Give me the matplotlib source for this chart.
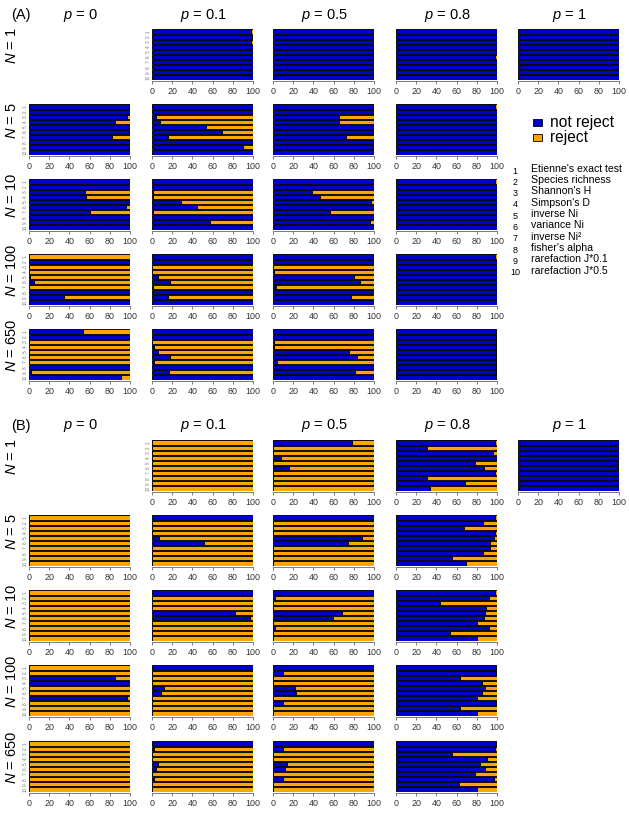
import matplotlib
matplotlib.use("Agg")
import matplotlib.pyplot as plt
from matplotlib.patches import Rectangle

plt.rcParams['font.family'] = ['Liberation Sans', 'DejaVu Sans']
plt.rcParams['mathtext.fontset'] = 'custom'
plt.rcParams['mathtext.rm'] = 'Liberation Sans'
plt.rcParams['mathtext.it'] = 'Liberation Sans:italic'

# ---------------- data: % "not reject" for tests 1..10 ----------------
p_values = ['0', '0.1', '0.5', '0.8', '1']
N_values = ['1', '5', '10', '100', '650']
methods = ["Etienne's exact test", "Species richness", "Shannon's H", "Simpson's D",
           "inverse Ni", "variance Ni", "inverse Ni\u00b2", "fisher's alpha",
           "rarefaction J*0.1", "rarefaction J*0.5"]
x_ticks = [0, 20, 40, 60, 80, 100]

# Panel A
A_N1_p01 = [98, 99, 98, 100, 100, 100, 100, 100, 100, 100]
A_N1_p05 = [100, 100, 100, 100, 99, 99, 100, 100, 100, 100]
A_N1_p08 = [100, 100, 100, 100, 100, 98, 100, 100, 100, 100]
A_N1_p1 = [100, 100, 100, 100, 100, 100, 100, 100, 100, 100]
A_N5_p0 = [100, 100, 97, 85, 100, 100, 82, 100, 100, 100]
A_N5_p01 = [100, 100, 4, 8, 53, 69, 16, 100, 90, 100]
A_N5_p05 = [100, 100, 65, 65, 100, 100, 72, 100, 100, 100]
A_N5_p08 = [98, 100, 100, 100, 100, 100, 100, 100, 100, 100]
A_N10_p0 = [99, 100, 55, 56, 100, 96, 60, 100, 100, 100]
A_N10_p01 = [100, 100, 1, 1, 29, 45, 1, 100, 57, 100]
A_N10_p05 = [100, 100, 39, 47, 97, 100, 56, 100, 96, 100]
A_N10_p08 = [98, 100, 100, 100, 100, 100, 100, 100, 100, 100]
A_N100_p0 = [0, 100, 0, 0, 1, 5, 0, 100, 35, 100]
A_N100_p01 = [100, 100, 0, 0, 6, 18, 1, 100, 16, 100]
A_N100_p05 = [100, 100, 0, 1, 80, 86, 3, 100, 77, 100]
A_N100_p08 = [98, 100, 100, 100, 100, 100, 100, 100, 100, 100]
A_N650_p0 = [53, 100, 0, 0, 0, 0, 0, 100, 2, 91]
A_N650_p01 = [100, 100, 0, 2, 6, 18, 2, 100, 17, 100]
A_N650_p05 = [100, 100, 1, 1, 75, 83, 4, 100, 81, 100]
A_N650_p08 = [99, 99, 99, 99, 99, 99, 99, 99, 99, 99]

# Panel B
B_N1_p01 = [0, 0, 0, 0, 0, 0, 0, 0, 0, 0]
B_N1_p05 = [78, 0, 0, 8, 0, 16, 0, 0, 0, 0]
B_N1_p08 = [98, 31, 96, 100, 78, 87, 98, 31, 68, 34]
B_N1_p1 = [100, 100, 100, 100, 99, 99, 100, 100, 100, 100]
B_N5_p0 = [0, 0, 0, 0, 0, 0, 0, 0, 0, 0]
B_N5_p01 = [100, 0, 0, 0, 7, 51, 0, 0, 0, 0]
B_N5_p05 = [100, 0, 0, 0, 88, 74, 0, 0, 0, 0]
B_N5_p08 = [98, 86, 67, 98, 97, 93, 93, 86, 55, 69]
B_N10_p0 = [0, 0, 0, 0, 0, 0, 0, 0, 0, 0]
B_N10_p01 = [100, 0, 0, 0, 82, 97, 0, 0, 0, 0]
B_N10_p05 = [100, 2, 0, 0, 68, 59, 0, 2, 0, 0]
B_N10_p08 = [98, 92, 44, 89, 88, 87, 80, 92, 53, 80]
B_N100_p0 = [0, 0, 85, 100, 0, 0, 97, 0, 0, 0]
B_N100_p01 = [100, 0, 0, 0, 12, 9, 0, 0, 0, 0]
B_N100_p05 = [100, 10, 0, 0, 22, 23, 0, 10, 0, 0]
B_N100_p08 = [99, 99, 63, 85, 88, 85, 80, 99, 63, 80]
B_N650_p0 = [0, 0, 0, 0, 0, 0, 0, 0, 0, 0]
B_N650_p01 = [100, 2, 0, 0, 6, 4, 0, 2, 0, 0]
B_N650_p05 = [100, 10, 0, 0, 14, 12, 0, 10, 0, 0]
B_N650_p08 = [99, 98, 55, 90, 83, 88, 78, 97, 62, 80]

panelA = [[None, A_N1_p01, A_N1_p05, A_N1_p08, A_N1_p1],
          [A_N5_p0, A_N5_p01, A_N5_p05, A_N5_p08, None],
          [A_N10_p0, A_N10_p01, A_N10_p05, A_N10_p08, None],
          [A_N100_p0, A_N100_p01, A_N100_p05, A_N100_p08, None],
          [A_N650_p0, A_N650_p01, A_N650_p05, A_N650_p08, None]]
panelB = [[None, B_N1_p01, B_N1_p05, B_N1_p08, B_N1_p1],
          [B_N5_p0, B_N5_p01, B_N5_p05, B_N5_p08, None],
          [B_N10_p0, B_N10_p01, B_N10_p05, B_N10_p08, None],
          [B_N100_p0, B_N100_p01, B_N100_p05, B_N100_p08, None],
          [B_N650_p0, B_N650_p01, B_N650_p05, B_N650_p08, None]]

BLUE = '#0000CD'
ORANGE = '#FFA500'

W, H = 629, 827
fig = plt.figure(figsize=(W / 100, H / 100), dpi=100)

# overlay axes in pixel coordinates for free text
ov = fig.add_axes([0, 0, 1, 1])
ov.set_xlim(0, W)
ov.set_ylim(H, 0)
ov.axis('off')
ov.patch.set_alpha(0)

col_x = [29, 152, 273, 396, 518]
cw, ch = 101, 51
row_tops = {'A': [29, 104, 179, 254, 329], 'B': [440, 515, 590, 665, 741]}


def draw_cell(x0, ytop, vals, show_names):
    ax = fig.add_axes([x0 / W, 1 - (ytop + ch) / H, cw / W, ch / H])
    pos = list(range(len(vals)))
    rej = [100 - v for v in vals]
    ax.barh(pos, vals, height=0.83, color=BLUE, edgecolor='black', linewidth=0.65)
    ax.barh(pos, rej, left=vals, height=0.83, color=ORANGE, edgecolor='black', linewidth=0.65)
    ax.set_xlim(0, 100)
    ax.set_ylim(len(vals) - 0.5, -0.5)
    for s in ['top', 'right', 'left']:
        ax.spines[s].set_visible(False)
    ax.spines['bottom'].set_bounds(0, 100)
    ax.spines['bottom'].set_position(('outward', 1.0))
    ax.spines['bottom'].set_color('#666666')
    ax.spines['bottom'].set_linewidth(0.6)
    ax.set_xticks(x_ticks)
    ax.tick_params(axis='x', length=2.2, width=0.6, colors='#666666', labelsize=6.4,
                   labelcolor='#333333', pad=2.0)
    if show_names:
        ax.set_yticks(pos)
        ax.set_yticklabels([str(i + 1) for i in pos], rotation=90, fontsize=3.3,
                           color='#777777', va='center')
        ax.tick_params(axis='y', length=0, pad=1)
    else:
        ax.set_yticks([])
    ax.patch.set_alpha(0)
    return ax


for pname, grid in [('A', panelA), ('B', panelB)]:
    tops = row_tops[pname]
    for r, row in enumerate(grid):
        first = True
        for c, vals in enumerate(row):
            if vals is None:
                continue
            draw_cell(col_x[c], tops[r], vals, first)
            first = False
        ov.text(12, tops[r] + ch / 2 - 9, r'$N$ = ' + N_values[r], rotation=90,
                ha='center', va='center', fontsize=10.5)
    ty = tops[0] - 14
    for c in range(5):
        ov.text(col_x[c] + cw / 2 + 1, ty, r'$p$ = ' + p_values[c], ha='center',
                va='center', fontsize=10.5)
    ov.text(21, ty, '(' + pname + ')', ha='center', va='center', fontsize=10.5)

# legend
ov.add_patch(Rectangle((533, 119), 9, 7, facecolor=BLUE, edgecolor='black', lw=0.6))
ov.add_patch(Rectangle((533, 134), 9, 7, facecolor=ORANGE, edgecolor='black', lw=0.6))
ov.text(550, 127, 'not reject', ha='left', va='baseline', fontsize=11.2)
ov.text(550, 142, 'reject', ha='left', va='baseline', fontsize=11.2)

for k, m in enumerate(methods):
    yy = 168 + 11.3 * k
    ov.text(515, yy + 5.5, str(k + 1), ha='center', va='baseline', fontsize=6.5)
    ov.text(531, yy + 3.8, m, ha='left', va='baseline', fontsize=7.6)

fig.savefig('out.png', dpi=100)
